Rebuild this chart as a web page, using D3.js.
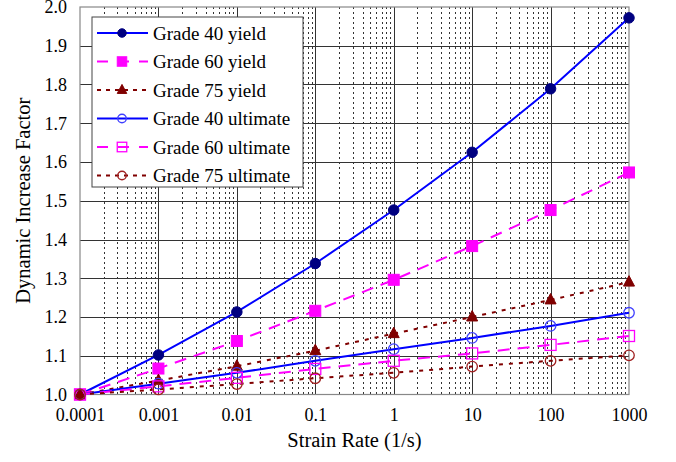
<!DOCTYPE html>
<html>
<head>
<meta charset="utf-8">
<script src="https://cdn.jsdelivr.net/npm/d3@7/dist/d3.min.js"></script>
<style>
  html, body { margin: 0; padding: 0; background: #fff; }
  svg { display: block; }
  text { font-family: "Liberation Serif", "Times New Roman", serif; fill: #000; }
</style>
</head>
<body>
<svg id="chart" width="676" height="462"></svg>
<script>
// ---- data ----
const strainRates = [0.0001, 0.001, 0.01, 0.1, 1, 10, 100, 1000];
const xTickLabels = ["0.0001", "0.001", "0.01", "0.1", "1", "10", "100", "1000"];
const yTicks = [1.0, 1.1, 1.2, 1.3, 1.4, 1.5, 1.6, 1.7, 1.8, 1.9, 2.0];

const grade40Yield    = [1.0, 1.102, 1.213, 1.338, 1.476, 1.625, 1.789, 1.972];
const grade60Yield    = [1.0, 1.067, 1.138, 1.216, 1.296, 1.383, 1.476, 1.573];
const grade75Yield    = [1.0, 1.036, 1.073, 1.113, 1.157, 1.200, 1.244, 1.290];
const grade40Ultimate = [1.0, 1.028, 1.056, 1.087, 1.117, 1.146, 1.177, 1.211];
const grade60Ultimate = [1.0, 1.021, 1.043, 1.066, 1.087, 1.106, 1.128, 1.151];
const grade75Ultimate = [1.0, 1.013, 1.027, 1.042, 1.056, 1.072, 1.087, 1.101];

const seriesNames = ["Grade 40 yield", "Grade 60 yield", "Grade 75 yield",
                     "Grade 40 ultimate", "Grade 60 ultimate", "Grade 75 ultimate"];
const seriesValues = [grade40Yield, grade60Yield, grade75Yield,
                      grade40Ultimate, grade60Ultimate, grade75Ultimate];

// ---- styles ----
const styles = [
  { line: "#0000ff", dash: null,   marker: "circle",   fill: "#000080", stroke: "#000080" },
  { line: "#ff00ff", dash: "12,8", marker: "square",   fill: "#ff00ff", stroke: "#ff00ff" },
  { line: "#800000", dash: "4,6",  marker: "triangle", fill: "#800000", stroke: "#800000" },
  { line: "#0000ff", dash: null,   marker: "circle",   fill: "none",    stroke: "#3f3fff" },
  { line: "#ff00ff", dash: "12,8", marker: "square",   fill: "none",    stroke: "#ff00ff" },
  { line: "#800000", dash: "4,6",  marker: "circle",   fill: "none",    stroke: "#a02020" }
];

const svg = d3.select("#chart");
const pLeft = 80, pRight = 629, pTop = 7, pBottom = 394.5;

const x = d3.scaleLog().domain([0.0001, 1000]).range([pLeft, pRight]);
const y = d3.scaleLinear().domain([1.0, 2.0]).range([pBottom, pTop]);
const crisp = v => Math.round(v) + 0.5;

// ---- grid ----
const grid = svg.append("g");
const minor = [];
for (let i = 0; i < strainRates.length - 1; i++) {
  for (let k = 2; k <= 9; k++) minor.push(strainRates[i] * k);
}
grid.selectAll("line.minor").data(minor).enter().append("line")
  .attr("class", "minor")
  .attr("x1", d => crisp(x(d))).attr("x2", d => crisp(x(d)))
  .attr("y1", pTop).attr("y2", pBottom)
  .attr("stroke", "#333").attr("stroke-width", 1)
  .attr("stroke-dasharray", "2,3");
grid.selectAll("line.vmajor").data(strainRates.slice(1, -1)).enter().append("line")
  .attr("class", "vmajor")
  .attr("x1", d => crisp(x(d))).attr("x2", d => crisp(x(d)))
  .attr("y1", pTop).attr("y2", pBottom)
  .attr("stroke", "#333").attr("stroke-width", 1);
grid.selectAll("line.hmajor").data(yTicks.slice(1, -1)).enter().append("line")
  .attr("class", "hmajor")
  .attr("x1", pLeft).attr("x2", pRight)
  .attr("y1", d => crisp(y(d))).attr("y2", d => crisp(y(d)))
  .attr("stroke", "#333").attr("stroke-width", 1);
svg.append("rect")
  .attr("x", pLeft).attr("y", pTop)
  .attr("width", pRight - pLeft).attr("height", pBottom - pTop)
  .attr("fill", "none").attr("stroke", "#888").attr("stroke-width", 1.2);

// ---- axes ----
const yAxis = svg.append("g").attr("transform", `translate(${pLeft},0)`)
  .call(d3.axisLeft(y).tickValues(yTicks).tickFormat(d3.format(".1f")).tickSize(0).tickPadding(13));
yAxis.select(".domain").remove();
yAxis.selectAll("text").style("font-size", "18px").style("font-family", "Liberation Serif");

const xAxis = svg.append("g").attr("transform", `translate(0,${pBottom})`)
  .call(d3.axisBottom(x).tickValues(strainRates).tickFormat((d, i) => xTickLabels[i]).tickSize(0).tickPadding(14));
xAxis.select(".domain").remove();
xAxis.selectAll("text").style("font-size", "18px").style("font-family", "Liberation Serif");

svg.append("text")
  .attr("x", (pLeft + pRight) / 2).attr("y", 447)
  .attr("text-anchor", "middle")
  .style("font-size", "20.5px")
  .text("Strain Rate (1/s)");

svg.append("text")
  .attr("transform", `translate(30,${(pTop + pBottom) / 2}) rotate(-90)`)
  .attr("text-anchor", "middle")
  .style("font-size", "20.5px")
  .text("Dynamic Increase Factor");

// ---- markers ----
function drawMarker(g, type, cx, cy, size, st) {
  let m;
  if (type === "circle") {
    m = g.append("circle").attr("cx", cx).attr("cy", cy).attr("r", size / 2);
  } else if (type === "square") {
    m = g.append("rect").attr("x", cx - size / 2).attr("y", cy - size / 2)
      .attr("width", size).attr("height", size);
  } else {
    const h = size * 0.95;
    m = g.append("path").attr("d",
      `M${cx},${cy - h * 0.62} L${cx + size / 2},${cy + h * 0.38} L${cx - size / 2},${cy + h * 0.38} Z`);
  }
  m.attr("fill", st.fill).attr("stroke", st.stroke).attr("stroke-width", st.fill === "none" ? 1.3 : 1);
}

// ---- series ----
const line = d3.line().x(d => x(d[0])).y(d => y(d[1]));
const linesG = svg.append("g");
const marksG = svg.append("g");
seriesValues.forEach((vals, si) => {
  const st = styles[si];
  const pts = strainRates.map((r, i) => [r, vals[i]]);
  linesG.append("path").datum(pts)
    .attr("d", line)
    .attr("fill", "none")
    .attr("stroke", st.line)
    .attr("stroke-width", 2)
    .attr("stroke-dasharray", st.dash);
  pts.forEach(p => {
    drawMarker(marksG, st.marker, x(p[0]), y(p[1]), st.marker === "circle" ? 10.5 : 11, st);
  });
});

// ---- legend ----
const lg = svg.append("g");
lg.append("rect").attr("x", 92).attr("y", 17).attr("width", 211).attr("height", 170)
  .attr("fill", "#fff").attr("stroke", "#444").attr("stroke-width", 1);
seriesNames.forEach((name, i) => {
  const st = styles[i];
  const cy = 33 + i * 28.5;
  lg.append("line").attr("x1", 97).attr("x2", 148).attr("y1", cy).attr("y2", cy)
    .attr("stroke", st.line).attr("stroke-width", 2)
    .attr("stroke-dasharray", st.dash ? (st.dash === "12,8" ? "11,10" : "4,5") : null);
  drawMarker(lg, st.marker, 122, cy, st.marker === "circle" ? 8.5 : 9.5, st);
  lg.append("text").attr("x", 153).attr("y", cy).attr("dy", "0.35em")
    .style("font-size", "19px")
    .text(name);
});
</script>
</body>
</html>
